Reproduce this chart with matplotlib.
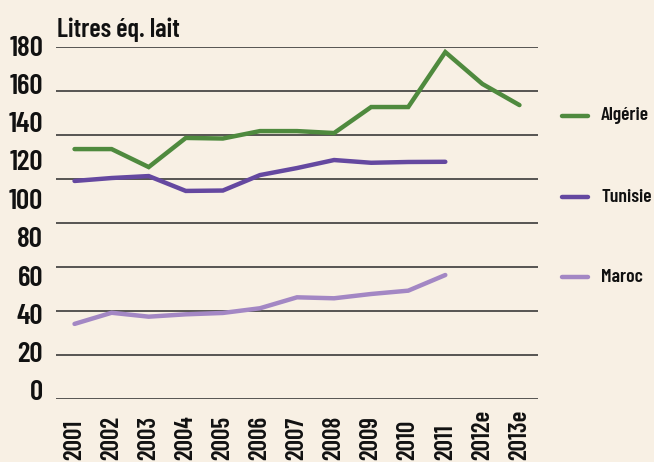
import matplotlib
matplotlib.use("Agg")
import matplotlib.pyplot as plt
import matplotlib.transforms as mtransforms
import numpy as np

years = ["2001", "2002", "2003", "2004", "2005", "2006", "2007", "2008", "2009",
         "2010", "2011", "2012e", "2013e"]
algerie = [127.8, 127.8, 118.6, 133.5, 133.2, 137.0, 137.0, 136.0, 149.3, 149.3,
           177.4, 161.1, 150.3]
tunisie = [111.5, 113.0, 114.0, 106.4, 106.6, 114.5, 118.1, 122.2, 120.8, 121.2, 121.3]
maroc = [38.4, 44.1, 42.1, 43.3, 44.0, 46.4, 52.0, 51.5, 53.7, 55.4, 63.4]
ytick_labels = ["0", "20", "40", "60", "80", "100", "120", "140", "160", "180"]
series_names = ["Algérie", "Tunisie", "Maroc"]
unit_label = "Litres éq. lait"

plt.rcParams['font.family'] = ['Barlow Condensed', 'DejaVu Sans']
plt.rcParams['font.weight'] = 'semibold'

bg = "#f8f0e4"
colors = ["#4f8a3e", "#6548a0", "#a387c4"]
txtc = "#111111"

fig = plt.figure(figsize=(6.54, 4.62), dpi=100, facecolor=bg)
ax = fig.add_axes([56/654, 63/462, 482/654, 352/462], facecolor=bg)

ax.set_xlim(-0.5, len(years) - 0.5)
ax.set_ylim(0, 180)

# gridlines (8 equal intervals across the plot)
for g in np.linspace(0, 180, 9):
    ax.axhline(g, color="#2a2a2a", lw=1.1, zorder=1)

x = np.arange(len(years))
data = [algerie, tunisie, maroc]
for name, vals, c in zip(series_names, data, colors):
    ax.plot(x[:len(vals)], vals, color=c, lw=3.2, solid_capstyle="round",
            solid_joinstyle="miter", zorder=3)

for s in ax.spines.values():
    s.set_visible(False)
ax.set_xticks([])
ax.set_yticks([])

# y labels (slightly compressed spacing relative to gridlines, as in reference)
ylab_vals = np.arange(0, 181, 20)
for v, lab in zip(ylab_vals, ytick_labels):
    ypix = 393 - v * (345 / 180)
    fig.text(43/654, 1 - ypix/462, lab, ha="right", va="center",
             fontsize=21, color=txtc)

# x labels rotated, bottom-aligned
trans = mtransforms.blended_transform_factory(ax.transData, fig.transFigure)
for i, lab in enumerate(years):
    ax.text(i, 2/462, lab, rotation=90, ha="center", va="bottom",
            fontsize=18, color=txtc, transform=trans)

fig.text(57/654, 1 - 37/462, unit_label, ha="left", va="baseline",
         fontsize=19, color=txtc)

# legend
leg_y = [116, 197, 277]
for name, c, yp in zip(series_names, colors, leg_y):
    yf = 1 - yp/462
    fig.add_artist(plt.Line2D([562/654, 588/654], [yf, yf], color=c, lw=3.2,
                              solid_capstyle="round", transform=fig.transFigure))
    fig.text(601/654, yf, name, ha="left", va="center", fontsize=14,
             color=txtc)

fig.savefig("out.png", dpi=100, facecolor=bg)
